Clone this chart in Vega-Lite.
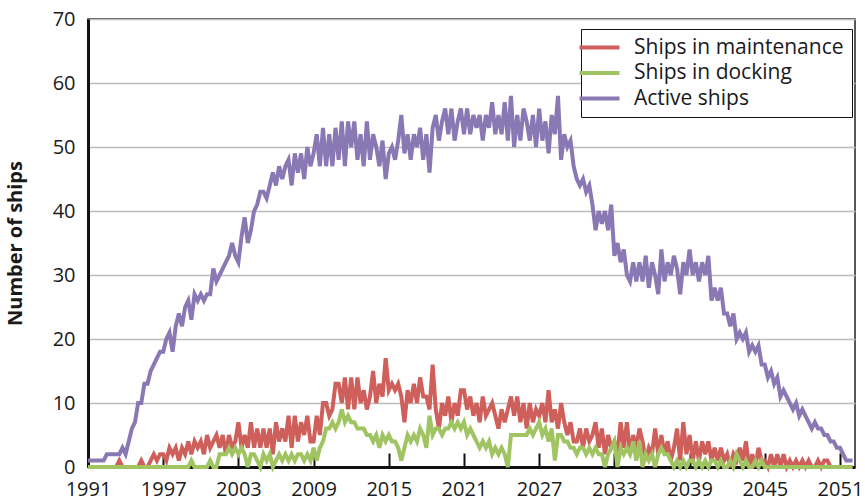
{
"$schema": "https://vega.github.io/schema/vega-lite/v6.json",
"width": 767, "height": 448,
"autosize": "none",
"padding": {"left": 88, "top": 19, "right": 10, "bottom": 33},
"background": "white",
"config": {
  "font": "Open Sans",
  "view": {"stroke": "#222", "strokeWidth": 1.5},
  "axis": {"labelFont": "Open Sans", "labelFontSize": 20, "labelColor": "#1a1a1a", "titleFont": "Open Sans"}
},
"data": {"values": [
{"t":1991,"a":1,"m":0,"d":0},{"t":1991.25,"a":1,"m":0,"d":0},{"t":1991.5,"a":1,"m":0,"d":0},{"t":1991.75,"a":1,"m":0,"d":0},
{"t":1992,"a":1,"m":0,"d":0},{"t":1992.25,"a":1,"m":0,"d":0},{"t":1992.5,"a":2,"m":0,"d":0},{"t":1992.75,"a":2,"m":0,"d":0},
{"t":1993,"a":2,"m":0,"d":0},{"t":1993.25,"a":2,"m":0,"d":0},{"t":1993.5,"a":2,"m":1,"d":0},{"t":1993.75,"a":3,"m":0,"d":0},
{"t":1994,"a":2,"m":0,"d":0},{"t":1994.25,"a":4,"m":0,"d":0},{"t":1994.5,"a":6,"m":0,"d":0},{"t":1994.75,"a":7,"m":0,"d":0},
{"t":1995,"a":10,"m":0,"d":0},{"t":1995.25,"a":10,"m":1,"d":0},{"t":1995.5,"a":13,"m":0,"d":0},{"t":1995.75,"a":13,"m":0,"d":0},
{"t":1996,"a":15,"m":1,"d":0},{"t":1996.25,"a":16,"m":2,"d":0},{"t":1996.5,"a":17,"m":1,"d":0},{"t":1996.75,"a":18,"m":2,"d":0},
{"t":1997,"a":18,"m":2,"d":0},{"t":1997.25,"a":20,"m":1,"d":0},{"t":1997.5,"a":21,"m":3,"d":0},{"t":1997.75,"a":18,"m":2,"d":0},
{"t":1998,"a":22,"m":3,"d":0},{"t":1998.25,"a":24,"m":1,"d":0},{"t":1998.5,"a":22,"m":3,"d":0},{"t":1998.75,"a":25,"m":2,"d":0},
{"t":1999,"a":26,"m":4,"d":0},{"t":1999.25,"a":23,"m":2,"d":1},{"t":1999.5,"a":27,"m":4,"d":0},{"t":1999.75,"a":26,"m":3,"d":0},
{"t":2000,"a":27,"m":4,"d":0},{"t":2000.25,"a":26,"m":2,"d":0},{"t":2000.5,"a":27,"m":5,"d":0},{"t":2000.75,"a":27,"m":3,"d":1},
{"t":2001,"a":31,"m":4,"d":0},{"t":2001.25,"a":29,"m":5,"d":0},{"t":2001.5,"a":30,"m":3,"d":2},{"t":2001.75,"a":31,"m":5,"d":2},
{"t":2002,"a":32,"m":2,"d":2},{"t":2002.25,"a":33,"m":5,"d":3},{"t":2002.5,"a":35,"m":3,"d":2},{"t":2002.75,"a":33,"m":4,"d":3},
{"t":2003,"a":32,"m":7,"d":2},{"t":2003.25,"a":36,"m":3,"d":3},{"t":2003.5,"a":39,"m":5,"d":2},{"t":2003.75,"a":35,"m":3,"d":0},
{"t":2004,"a":37,"m":7,"d":2},{"t":2004.25,"a":40,"m":3,"d":2},{"t":2004.5,"a":41,"m":6,"d":1},{"t":2004.75,"a":43,"m":3,"d":0},
{"t":2005,"a":43,"m":6,"d":2},{"t":2005.25,"a":42,"m":3,"d":1},{"t":2005.5,"a":44,"m":6,"d":2},{"t":2005.75,"a":46,"m":2,"d":0},
{"t":2006,"a":44,"m":7,"d":1},{"t":2006.25,"a":47,"m":4,"d":2},{"t":2006.5,"a":45,"m":6,"d":1},{"t":2006.75,"a":47,"m":4,"d":2},
{"t":2007,"a":48,"m":8,"d":1},{"t":2007.25,"a":44,"m":3,"d":2},{"t":2007.5,"a":49,"m":8,"d":1},{"t":2007.75,"a":46,"m":4,"d":2},
{"t":2008,"a":49,"m":7,"d":2},{"t":2008.25,"a":45,"m":5,"d":1},{"t":2008.5,"a":50,"m":8,"d":2},{"t":2008.75,"a":47,"m":4,"d":1},
{"t":2009,"a":49,"m":4,"d":3},{"t":2009.25,"a":52,"m":8,"d":1},{"t":2009.5,"a":47,"m":5,"d":3},{"t":2009.75,"a":53,"m":10,"d":4},
{"t":2010,"a":47,"m":10,"d":6},{"t":2010.25,"a":52,"m":8,"d":6},{"t":2010.5,"a":47,"m":9,"d":7},{"t":2010.75,"a":53,"m":13,"d":6},
{"t":2011,"a":48,"m":13,"d":7},{"t":2011.25,"a":54,"m":10,"d":9},{"t":2011.5,"a":47,"m":14,"d":7},{"t":2011.75,"a":54,"m":9,"d":8},
{"t":2012,"a":50,"m":14,"d":7},{"t":2012.25,"a":54,"m":9,"d":7},{"t":2012.5,"a":48,"m":14,"d":6},{"t":2012.75,"a":52,"m":10,"d":6},
{"t":2013,"a":47,"m":12,"d":6},{"t":2013.25,"a":54,"m":9,"d":5},{"t":2013.5,"a":48,"m":11,"d":5},{"t":2013.75,"a":52,"m":15,"d":4},
{"t":2014,"a":50,"m":10,"d":5},{"t":2014.25,"a":47,"m":13,"d":3},{"t":2014.5,"a":51,"m":11,"d":5},{"t":2014.75,"a":45,"m":17,"d":4},
{"t":2015,"a":49,"m":12,"d":5},{"t":2015.25,"a":50,"m":13,"d":4},{"t":2015.5,"a":48,"m":12,"d":4},{"t":2015.75,"a":51,"m":13,"d":3},
{"t":2016,"a":55,"m":11,"d":1},{"t":2016.25,"a":49,"m":7,"d":3},{"t":2016.5,"a":52,"m":12,"d":5},{"t":2016.75,"a":48,"m":10,"d":4},
{"t":2017,"a":52,"m":13,"d":5},{"t":2017.25,"a":50,"m":10,"d":4},{"t":2017.5,"a":53,"m":14,"d":6},{"t":2017.75,"a":48,"m":11,"d":5},
{"t":2018,"a":52,"m":11,"d":3},{"t":2018.25,"a":46,"m":9,"d":8},{"t":2018.5,"a":53,"m":16,"d":5},{"t":2018.75,"a":55,"m":9,"d":6},
{"t":2019,"a":51,"m":6,"d":6},{"t":2019.25,"a":54,"m":10,"d":5},{"t":2019.5,"a":56,"m":8,"d":6},{"t":2019.75,"a":52,"m":11,"d":6},
{"t":2020,"a":56,"m":7,"d":7},{"t":2020.25,"a":51,"m":10,"d":6},{"t":2020.5,"a":54,"m":8,"d":7},{"t":2020.75,"a":56,"m":12,"d":6},
{"t":2021,"a":52,"m":12,"d":7},{"t":2021.25,"a":56,"m":9,"d":5},{"t":2021.5,"a":52,"m":11,"d":6},{"t":2021.75,"a":55,"m":8,"d":5},
{"t":2022,"a":53,"m":10,"d":4},{"t":2022.25,"a":55,"m":7,"d":3},{"t":2022.5,"a":51,"m":11,"d":4},{"t":2022.75,"a":55,"m":8,"d":3},
{"t":2023,"a":53,"m":9,"d":4},{"t":2023.25,"a":57,"m":10,"d":2},{"t":2023.5,"a":52,"m":8,"d":3},{"t":2023.75,"a":55,"m":6,"d":2},
{"t":2024,"a":52,"m":9,"d":3},{"t":2024.25,"a":57,"m":7,"d":2},{"t":2024.5,"a":51,"m":9,"d":0},{"t":2024.75,"a":58,"m":11,"d":5},
{"t":2025,"a":50,"m":8,"d":5},{"t":2025.25,"a":55,"m":11,"d":5},{"t":2025.5,"a":51,"m":7,"d":5},{"t":2025.75,"a":56,"m":10,"d":5},
{"t":2026,"a":54,"m":6,"d":5},{"t":2026.25,"a":51,"m":10,"d":6},{"t":2026.5,"a":55,"m":7,"d":5},{"t":2026.75,"a":50,"m":9,"d":6},
{"t":2027,"a":56,"m":8,"d":7},{"t":2027.25,"a":51,"m":10,"d":5},{"t":2027.5,"a":54,"m":7,"d":6},{"t":2027.75,"a":49,"m":12,"d":4},
{"t":2028,"a":55,"m":7,"d":6},{"t":2028.25,"a":52,"m":9,"d":1},{"t":2028.5,"a":58,"m":6,"d":5},{"t":2028.75,"a":48,"m":10,"d":5},
{"t":2029,"a":52,"m":7,"d":4},{"t":2029.25,"a":50,"m":5,"d":4},{"t":2029.5,"a":51,"m":7,"d":3},{"t":2029.75,"a":47,"m":4,"d":3},
{"t":2030,"a":45,"m":4,"d":2},{"t":2030.25,"a":44,"m":6,"d":3},{"t":2030.5,"a":45,"m":3,"d":3},{"t":2030.75,"a":43,"m":6,"d":2},
{"t":2031,"a":44,"m":4,"d":3},{"t":2031.25,"a":41,"m":5,"d":2},{"t":2031.5,"a":37,"m":7,"d":3},{"t":2031.75,"a":40,"m":3,"d":2},
{"t":2032,"a":38,"m":6,"d":2},{"t":2032.25,"a":40,"m":2,"d":0},{"t":2032.5,"a":37,"m":5,"d":2},{"t":2032.75,"a":41,"m":3,"d":3},
{"t":2033,"a":33,"m":4,"d":4},{"t":2033.25,"a":35,"m":2,"d":0},{"t":2033.5,"a":32,"m":7,"d":3},{"t":2033.75,"a":34,"m":3,"d":2},
{"t":2034,"a":30,"m":7,"d":3},{"t":2034.25,"a":29,"m":2,"d":2},{"t":2034.5,"a":32,"m":5,"d":4},{"t":2034.75,"a":29,"m":3,"d":1},
{"t":2035,"a":32,"m":6,"d":4},{"t":2035.25,"a":29,"m":4,"d":0},{"t":2035.5,"a":33,"m":1,"d":2},{"t":2035.75,"a":28,"m":3,"d":1},
{"t":2036,"a":32,"m":2,"d":2},{"t":2036.25,"a":30,"m":6,"d":0},{"t":2036.5,"a":27,"m":2,"d":2},{"t":2036.75,"a":34,"m":5,"d":3},
{"t":2037,"a":29,"m":2,"d":2},{"t":2037.25,"a":32,"m":4,"d":2},{"t":2037.5,"a":30,"m":1,"d":1},{"t":2037.75,"a":33,"m":3,"d":0},
{"t":2038,"a":31,"m":6,"d":1},{"t":2038.25,"a":27,"m":1,"d":0},{"t":2038.5,"a":32,"m":7,"d":1},{"t":2038.75,"a":30,"m":2,"d":0},
{"t":2039,"a":34,"m":5,"d":1},{"t":2039.25,"a":30,"m":1,"d":1},{"t":2039.5,"a":32,"m":4,"d":0},{"t":2039.75,"a":29,"m":1,"d":1},
{"t":2040,"a":32,"m":4,"d":0},{"t":2040.25,"a":30,"m":2,"d":1},{"t":2040.5,"a":33,"m":4,"d":0},{"t":2040.75,"a":26,"m":1,"d":1},
{"t":2041,"a":28,"m":3,"d":1},{"t":2041.25,"a":26,"m":1,"d":0},{"t":2041.5,"a":28,"m":3,"d":1},{"t":2041.75,"a":24,"m":1,"d":0},
{"t":2042,"a":24,"m":2,"d":0},{"t":2042.25,"a":22,"m":0,"d":1},{"t":2042.5,"a":24,"m":2,"d":0},{"t":2042.75,"a":20,"m":1,"d":2},
{"t":2043,"a":21,"m":3,"d":1},{"t":2043.25,"a":20,"m":1,"d":0},{"t":2043.5,"a":21,"m":4,"d":1},{"t":2043.75,"a":18,"m":0,"d":0},
{"t":2044,"a":19,"m":2,"d":0},{"t":2044.25,"a":18,"m":0,"d":1},{"t":2044.5,"a":19,"m":3,"d":0},{"t":2044.75,"a":16,"m":1,"d":1},
{"t":2045,"a":16,"m":1,"d":0},{"t":2045.25,"a":14,"m":0,"d":0},{"t":2045.5,"a":15,"m":2,"d":0},{"t":2045.75,"a":13,"m":0,"d":0},
{"t":2046,"a":14,"m":2,"d":0},{"t":2046.25,"a":11,"m":0,"d":0},{"t":2046.5,"a":12,"m":2,"d":0},{"t":2046.75,"a":11,"m":0,"d":0},
{"t":2047,"a":10,"m":1,"d":0},{"t":2047.25,"a":9,"m":0,"d":0},{"t":2047.5,"a":10,"m":1,"d":0},{"t":2047.75,"a":8,"m":0,"d":0},
{"t":2048,"a":9,"m":1,"d":0},{"t":2048.25,"a":8,"m":0,"d":0},{"t":2048.5,"a":7,"m":1,"d":0},{"t":2048.75,"a":6,"m":0,"d":0},
{"t":2049,"a":7,"m":0,"d":0},{"t":2049.25,"a":6,"m":1,"d":0},{"t":2049.5,"a":6,"m":0,"d":0},{"t":2049.75,"a":5,"m":1,"d":0},
{"t":2050,"a":5,"m":1,"d":0},{"t":2050.25,"a":4,"m":0,"d":0},{"t":2050.5,"a":4,"m":0,"d":0},{"t":2050.75,"a":3,"m":0,"d":0},
{"t":2051,"a":3,"m":0,"d":0},{"t":2051.25,"a":2,"m":0,"d":0},{"t":2051.5,"a":1,"m":0,"d":0},{"t":2051.75,"a":1,"m":0,"d":0},
{"t":2052,"a":1,"m":0,"d":0}
]},
"layer": [
 {"mark": {"type": "line", "strokeWidth": 4},
  "encoding": {
   "x": {"field": "t", "type": "quantitative", "scale": {"domain": [1991, 2052.2], "nice": false, "zero": false},
     "axis": {"title": null, "values": [1991,1997,2003,2009,2015,2021,2027,2033,2039,2045,2051], "format": "d", "grid": false, "tickSize": -14, "tickColor": "#111", "tickWidth": 2, "labelPadding": 26, "domainColor": "#111", "domainWidth": 3, "labelFlush": false}},
   "y": {"field": "m", "type": "quantitative", "scale": {"domain": [0, 70], "nice": false},
     "axis": {"title": "Number of ships", "titleFontSize": 20, "titleFontWeight": "bold", "titleColor": "#1a1a1a", "titlePadding": 27, "ticks": false, "labelPadding": 13, "values": [0,10,20,30,40,50,60,70], "grid": true, "gridColor": "#bcbcbc", "gridWidth": 1.5, "domainColor": "#111", "domainWidth": 3}},
   "color": {"datum": "Ships in maintenance", "type": "nominal",
     "scale": {"domain": ["Ships in maintenance", "Ships in docking", "Active ships"], "range": ["#cf5f5a", "#a0c462", "#8a78b4"]},
     "legend": {"title": null, "orient": "none", "legendX": 493, "legendY": 10, "symbolType": "M-2.5,0H2.5", "symbolStrokeWidth": 4, "symbolSize": 256, "labelFontSize": 21, "labelFont": "Open Sans", "labelColor": "#1a1a1a", "labelLimit": 0, "labelOffset": 24, "rowPadding": 3.5, "strokeColor": "#111", "fillColor": "white", "padding": 8, "cornerRadius": 0}}
  }},
 {"mark": {"type": "line", "strokeWidth": 4},
  "encoding": {
   "x": {"field": "t", "type": "quantitative"},
   "y": {"field": "d", "type": "quantitative", "axis": {"title": "Number of ships"}},
   "color": {"datum": "Ships in docking", "type": "nominal"}
  }},
 {"mark": {"type": "line", "strokeWidth": 4},
  "encoding": {
   "x": {"field": "t", "type": "quantitative"},
   "y": {"field": "a", "type": "quantitative", "axis": {"title": "Number of ships"}},
   "color": {"datum": "Active ships", "type": "nominal"}
  }}
]
}
